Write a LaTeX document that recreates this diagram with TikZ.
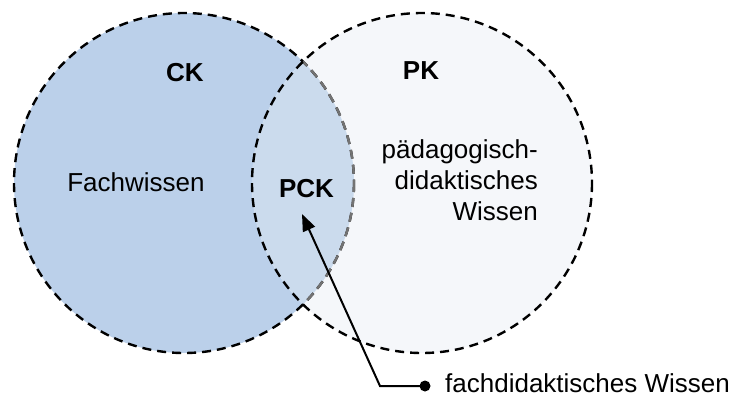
\documentclass[tikz,border=0pt]{standalone}
\usepackage{fontspec}
\setmainfont{Liberation Sans}
\usetikzlibrary{arrows.meta}
\definecolor{ckblue}{RGB}{187,208,234}
\definecolor{pkgray}{RGB}{245,247,250}
\definecolor{pckblue}{RGB}{203,219,237}
\definecolor{arcgray}{RGB}{115,115,115}
\begin{document}
\begin{tikzpicture}[x=1pt,y=-1pt,
  venn/.style={line width=2.4pt, dash pattern=on 9pt off 6pt},
  lbl/.style={font=\fontsize{26}{31}\selectfont, inner sep=0pt},
  boldlbl/.style={font=\fontsize{26}{31}\selectfont\bfseries, inner sep=0pt},
  pointer/.style={line width=2pt, -{Triangle[length=17pt,width=13pt]}},
  bullet/.style={circle, fill=black, inner sep=0pt, minimum size=11pt}]
\useasboundingbox (0,0) rectangle (740,399);
\coordinate (lc) at (184,183);
\coordinate (rc) at (422,183);
% fills
\fill[ckblue] (lc) circle[radius=170];
\fill[pkgray] (rc) circle[radius=170];
\begin{scope}
  \clip (lc) circle[radius=170];
  \fill[pckblue] (rc) circle[radius=170];
\end{scope}
% outlines
\draw[venn] (lc) circle[radius=170];
\begin{scope}
  \clip (rc) circle[radius=170];
  \draw[venn, arcgray] (lc) circle[radius=170];
\end{scope}
\draw[venn] (rc) circle[radius=170];
% labels
\node[boldlbl, anchor=base] (ck) at (185,81) {CK};
\node[boldlbl, anchor=base] (pk) at (421,79) {PK};
\node[lbl, anchor=base] (fach) at (136,191) {Fachwissen};
\node[boldlbl, anchor=base] (pck) at (306.5,197) {PCK};
\node[lbl, anchor=base east, align=right] (pdw) at (538,220.5) {pädagogisch-\\didaktisches\\Wissen};
\node[lbl, anchor=base west] (fdw) at (445,392.5) {fachdidaktisches Wissen};
% pointer
\node[bullet] (dot) at (425,386) {};
\coordinate (corner) at (380,386);
\coordinate (tip) at (302,214);
\draw[pointer] (dot.center) -- (corner) -- (tip);
\end{tikzpicture}
\end{document}
